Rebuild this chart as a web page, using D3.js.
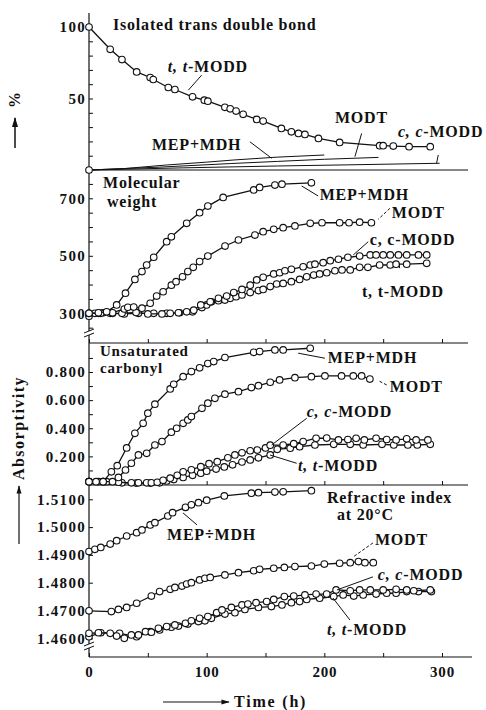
<!DOCTYPE html>
<html>
<head>
<meta charset="utf-8">
<script src="https://cdn.jsdelivr.net/npm/d3@7"></script>
<style>
  body { margin: 0; background: #fff; }
  svg text { font-family: "Liberation Serif", "DejaVu Serif", serif; fill: #111; }
</style>
</head>
<body>
<svg id="chart" width="486" height="710"></svg>
<script>
// ---- data (time in h, value) ----
const timeTicks = [0, 50, 100, 150, 200, 250, 300];
const timeLabels = [0, 100, 200, 300];

// panel 1: isolated trans double bond (%)
const transTT = [[0,100],[18,84.4],[28,77.2],[40.5,68.6],[52,64.7],[54.6,63.3],[67.4,57.7],[73,56.3],[88,51.2],[98,48.8],[101,48.1],[115.5,43.8],[120,42.8],[125,41.2],[131,38.9],[142.5,35.4],[148,34.2],[163.5,29.1],[172,26.7],[178,25.6],[183.5,24.9],[195,22.1],[213,19.3],[247,17],[250,17],[258.6,16.7],[272,16.3],[290,16.3]];
const transMepMdh = [[0,0],[30,1],[66,3.5],[100,5.5],[123,7],[160,9],[200,10.5]];
const transModt = [[0,0],[60,2],[120,4.5],[160,6],[200,7.5],[246,8.8]];
const transCC = [[0,0],[80,1.5],[160,2.8],[220,3.6],[298,4.7]];

// panel 2: molecular weight
const mwMepMdh = [[0,300],[8,302],[15,305],[23.5,329],[31,370],[39,418],[45,445],[49,468],[55,495],[66,549],[70,566],[83,613],[94,650],[101,673],[114,703],[140,729],[145,738],[158,746],[164,749],[189,754]];
const mwModt = [[0,300],[10,300],[20,302],[30,315],[33,321],[38,322],[45,318],[52,335],[57.5,360],[63,375],[70,398],[74,410],[79.5,427],[84,445],[88.6,460],[94,480],[101,499],[115.6,534],[127,555],[141,572],[148,584],[157,592],[165,598],[175,604],[188,613],[198,615],[213,615],[221,615],[230,617],[240,615]];
const mwCC = [[0,300],[5,300],[12,302],[20,300],[28,300],[40,303],[50,298],[62,298],[69,300],[76,302],[83,305],[89,311],[95,329],[103,340],[110,352],[117,360],[123,372],[130,383],[137,398],[142.5,416],[148,425],[157,437],[162,441],[166.5,448],[172,453],[182,462],[188,468],[192,471],[199,476],[205,483],[212,488],[220,495],[230,499],[239,503],[244,503],[250,503],[256,503],[263,503],[270,503],[280,503],[287,503]];
const mwTT = [[0,290],[8,300],[18,300],[30,298],[42,300],[55,300],[66,300],[77,302],[88,305],[96,320],[100,329],[104,340],[110,344],[115.5,346],[120,352],[125,358],[130,364],[137,372],[144,379],[148,383],[154,393],[159.5,402],[165,404],[172,410],[179,418],[185,427],[191,433],[196,437],[202,441],[209,448],[215,451],[222,451],[230,460],[237,460],[247,468],[256,468],[261,471],[270,471],[287,474]];

// panel 3: unsaturated carbonyl (absorptivity)
const absMepMdh = [[0,0.02],[6,0.02],[12,0.02],[19,0.09],[24,0.134],[32,0.26],[39,0.364],[46,0.435],[50,0.507],[56,0.571],[69,0.68],[72,0.713],[80,0.767],[87,0.803],[94,0.83],[101,0.86],[106,0.874],[115.5,0.903],[140,0.94],[145,0.945],[158,0.957],[165,0.957],[188,0.969]];
const absModt = [[0,0.02],[12,0.02],[20,0.02],[25,0.05],[31,0.103],[36,0.151],[42,0.21],[49,0.222],[56,0.281],[62,0.305],[70,0.372],[74.5,0.4],[80,0.435],[84,0.459],[87,0.483],[96,0.542],[101,0.578],[107,0.613],[115.5,0.642],[127,0.66],[138,0.689],[144,0.703],[154,0.727],[162,0.744],[175,0.76],[189,0.767],[200.5,0.772],[214.6,0.772],[224.6,0.772],[231.7,0.772],[238.7,0.75]];
const absCC = [[0,0.02],[8,0.02],[15,0.02],[25,0.016],[36,0.012],[42,0.012],[49,0.012],[53,0.012],[58,0.016],[63,0.03],[69,0.045],[75,0.065],[80,0.09],[87,0.105],[95,0.127],[102,0.148],[109,0.162],[118,0.19],[124,0.21],[130,0.225],[137,0.24],[143,0.245],[150,0.26],[154,0.28],[165,0.281],[174,0.29],[182,0.305],[193,0.329],[202,0.33],[212,0.317],[220,0.32],[227,0.329],[234,0.317],[244,0.329],[253,0.32],[261,0.317],[270,0.325],[278,0.317],[288,0.317]];
const absTT = [[0,0.02],[12,0.02],[28,0.012],[40,0.01],[52,0.01],[60,0.012],[66,0.025],[72,0.035],[80,0.05],[88,0.065],[95,0.08],[100,0.095],[108,0.11],[115,0.125],[122,0.14],[130,0.16],[137,0.175],[144,0.19],[154,0.21],[160,0.25],[171,0.258],[179,0.269],[192,0.281],[208,0.286],[222,0.286],[233,0.281],[249,0.286],[259,0.281],[271,0.281],[279,0.281],[290,0.286]];

// panel 4: refractive index at 20 C
const riMepMdh = [[0,1.4912],[5,1.4920],[10,1.4927],[18,1.4939],[23.5,1.4951],[32,1.4968],[40.5,1.4980],[45,1.4990],[52,1.5008],[56,1.5016],[67,1.5040],[71,1.5052],[82,1.5071],[87,1.5080],[93,1.5088],[100,1.5097],[115,1.5112],[138,1.5122],[144,1.5124],[158,1.5126],[165,1.5127],[189,1.5131]];
const riModt = [[0,1.4699],[19,1.4696],[25,1.4704],[32,1.4711],[40.5,1.4726],[53,1.4752],[60,1.4768],[69,1.4776],[73,1.4783],[79,1.4788],[83,1.4795],[87,1.4800],[94,1.4810],[98.5,1.4816],[103,1.4819],[115.5,1.4828],[127,1.4836],[140,1.4843],[145,1.4848],[157,1.4852],[166,1.4855],[175,1.4858],[189,1.4860],[200,1.4867],[213,1.4870],[222,1.4872],[229,1.4876],[234.5,1.4872],[241.6,1.4872]];
const riCC = [[0,1.4618],[8,1.4620],[18,1.4618],[23.5,1.4608],[30,1.4600],[36,1.4612],[42,1.4612],[48,1.4624],[53,1.4622],[59,1.4636],[66,1.4642],[73,1.4648],[82,1.4654],[87,1.4663],[94,1.4672],[101,1.4678],[108.5,1.4692],[113,1.4702],[121,1.4711],[130,1.4720],[135,1.4723],[142,1.4728],[151,1.4732],[157,1.4740],[166,1.4750],[174,1.4752],[183.5,1.4756],[193,1.4759],[202,1.4759],[210,1.4774],[222,1.4771],[230,1.4774],[239,1.4774],[250,1.4774],[261,1.4776],[270,1.4774],[276,1.4771],[290,1.4774]];
const riTT = [[0,1.4606],[10,1.4620],[26,1.4618],[40.5,1.4606],[52,1.4624],[60,1.4630],[70,1.4640],[76,1.4644],[84,1.4651],[93,1.4660],[98.5,1.4663],[104,1.4672],[115.5,1.4687],[124,1.4692],[132.5,1.4704],[144,1.4711],[155,1.4714],[164,1.4720],[172,1.4728],[179,1.4732],[185,1.4740],[196,1.4744],[208,1.4750],[216,1.4756],[225,1.4752],[233,1.4756],[244,1.4759],[253,1.4762],[261,1.4762],[270,1.4768],[280,1.4768],[291,1.4768]];

// ---- layout ----
const svg = d3.select('#chart');
const x = d3.scaleLinear().domain([0, 300]).range([89, 442]);
const xEnd = 472;

const panels = [
  { name: 'trans', top: 13, bottom: 170, domain: [0, 100], range: [170, 27],
    ticks: d3.range(0, 101, 10), labels: [50, 100], fmt: d3.format('d') },
  { name: 'mw', top: 170, bottom: 343, domain: [300, 700], range: [313.3, 198.3],
    ticks: d3.range(250, 751, 50), labels: [300, 500, 700], fmt: d3.format('d') },
  { name: 'abs', top: 343, bottom: 485, domain: [0, 0.8], range: [484.5, 372],
    ticks: d3.range(1, 10).map(d => d / 10), labels: [0.2, 0.4, 0.6, 0.8], fmt: d3.format('.3f') },
  { name: 'ri', top: 485, bottom: 657, domain: [1.46, 1.51], range: [638.3, 499.3],
    ticks: d3.range(0, 6).map(d => 1.46 + d / 100), labels: d3.range(0, 6).map(d => 1.46 + d / 100), fmt: d3.format('.4f') }
];
panels.forEach(p => { p.y = d3.scaleLinear().domain(p.domain).range(p.range); });

// y axes with inward ticks
panels.forEach(p => {
  const isLabel = v => p.labels.some(l => Math.abs(l - v) < 1e-9);
  const ax = svg.append('g')
    .attr('transform', `translate(${x(0)},0)`)
    .call(d3.axisLeft(p.y).tickValues(p.ticks)
      .tickSizeInner(-4).tickSizeOuter(0).tickPadding(3)
      .tickFormat(v => isLabel(v) ? p.fmt(v) : ''));
  ax.select('.domain').remove();
  ax.selectAll('line').attr('stroke', '#111');
  ax.selectAll('text').attr('font-size', 15).attr('font-weight', 'bold').attr('letter-spacing', 1.3)
    .style('font-family', '"Liberation Serif", serif').attr('fill', '#111');
});

// vertical axis line
svg.append('line').attr('x1', x(0)).attr('x2', x(0)).attr('y1', 13).attr('y2', 657)
  .attr('stroke', '#111').attr('stroke-width', 1.2);

// panel separators / time axes
panels.forEach((p, i) => {
  svg.append('line').attr('x1', x(0)).attr('x2', xEnd - (i < 3 ? 4 : 0))
    .attr('y1', p.bottom).attr('y2', p.bottom)
    .attr('stroke', '#111').attr('stroke-width', 1.2);
  if (i === 0) return;
  const ax = svg.append('g').attr('transform', `translate(0,${p.bottom})`)
    .call(d3.axisBottom(x).tickValues(timeTicks)
      .tickSizeInner(-4).tickSizeOuter(0).tickPadding(9)
      .tickFormat(v => (i === 3 && timeLabels.includes(v)) ? v : ''));
  ax.select('.domain').remove();
  ax.selectAll('line').attr('stroke', '#111');
  ax.selectAll('text').attr('font-size', 15).attr('font-weight', 'bold').attr('letter-spacing', 0.8)
    .style('font-family', '"Liberation Serif", serif').attr('fill', '#111');
});

// axis breaks
[333, 646].forEach(yb => {
  const g = svg.append('g');
  g.append('rect').attr('x', x(0) - 5).attr('y', yb - 2).attr('width', 10).attr('height', 4).attr('fill', '#fff');
  [-2, 2].forEach(o => g.append('line')
    .attr('x1', x(0) - 5).attr('y1', yb + o + 2).attr('x2', x(0) + 5).attr('y2', yb + o - 2)
    .attr('stroke', '#111').attr('stroke-width', 1));
});

// series
function drawSeries(p, data, markers) {
  const line = d3.line().x(d => x(d[0])).y(d => p.y(d[1]));
  svg.append('path').datum(data).attr('d', line)
    .attr('fill', 'none').attr('stroke', '#111').attr('stroke-width', markers ? 1.3 : 1);
  if (!markers) return;
  svg.append('g').selectAll('circle').data(data).join('circle')
    .attr('cx', d => x(d[0])).attr('cy', d => p.y(d[1])).attr('r', 3.3)
    .attr('fill', '#fff').attr('stroke', '#111').attr('stroke-width', 1.1);
}
const [p1, p2, p3, p4] = panels;
drawSeries(p1, transMepMdh, false);
drawSeries(p1, transModt, false);
drawSeries(p1, transCC, false);
drawSeries(p1, transTT, true);
drawSeries(p1, [[0, 0]], true);
[mwTT, mwCC, mwModt, mwMepMdh].forEach(s => drawSeries(p2, s, true));
[absTT, absCC, absModt, absMepMdh].forEach(s => drawSeries(p3, s, true));
[riTT, riCC, riModt, riMepMdh].forEach(s => drawSeries(p4, s, true));

// annotations: text and leaders placed in data coords
function label(p, parts, t, v, size) {
  const tx = svg.append('text').attr('x', x(t)).attr('y', p.y(v))
    .attr('font-size', size || 16).attr('font-weight', 'bold').attr('letter-spacing', 0.8);
  parts.forEach(pt => tx.append('tspan').text(pt[0]).attr('font-style', pt[1] ? 'italic' : 'normal'));
}
function leader(p, t1, v1, t2, v2, dash) {
  svg.append('line').attr('x1', x(t1)).attr('y1', p.y(v1)).attr('x2', x(t2)).attr('y2', p.y(v2))
    .attr('stroke', '#111').attr('stroke-width', 1).attr('stroke-dasharray', dash ? '3,2' : null);
}
const tt = [['t, t', true], ['-MODD', false]];
const cc = [['c, c', true], ['-MODD', false]];

label(p1, [['Isolated trans double bond']], 20.4, 97.7);
label(p1, tt, 67, 68.4);
leader(p1, 95.7, 66.3, 84.4, 55.8);
label(p1, [['MODT']], 209, 32.8);
leader(p1, 231.7, 25.6, 226, 9.3);
label(p1, [['MEP+MDH']], 53.5, 14);
leader(p1, 136.8, 19.7, 155.2, 8.2);
label(p1, cc, 262.5, 23);
leader(p1, 296.8, 10.5, 295.4, 4.7);

label(p2, [['Molecular']], 11.9, 736);
label(p2, [['weight']], 15.3, 670);
label(p2, [['MEP+MDH']], 196, 694);
leader(p2, 194.8, 708, 180.7, 743);
label(p2, [['MODT']], 257.4, 631);
leader(p2, 255.7, 665, 245.8, 627, true);
label(p2, [['c, c-MODD']], 238.7, 538);
leader(p2, 237.3, 549, 224.6, 503);
label(p2, [['t, t-MODD']], 232, 357);
leader(p2, 263.6, 474, 264, 457);

label(p3, [['Unsaturated']], 9.3, 0.915, 15);
label(p3, [['carbonyl']], 9.3, 0.792, 15);
label(p3, [['MEP+MDH']], 203, 0.865);
leader(p3, 200.5, 0.898, 177.8, 0.934);
label(p3, [['MODT']], 255.7, 0.658);
leader(p3, 253, 0.708, 245.8, 0.739, true);
label(p3, cc, 185, 0.48);
leader(p3, 185, 0.471, 155.2, 0.281);
label(p3, tt, 177.6, 0.096);
leader(p3, 176.5, 0.151, 153.8, 0.21);

label(p4, [['Refractive index']], 202.2, 1.5087);
label(p4, [['at 20°C']], 210.7, 1.5026);
label(p4, [['MEP÷MDH']], 66.3, 1.4954);
leader(p4, 91.8, 1.5008, 79.9, 1.5051);
label(p4, [['MODT']], 243, 1.4936);
leader(p4, 241.3, 1.4943, 224.3, 1.4892, true);
label(p4, cc, 245.5, 1.4810);
leader(p4, 241.3, 1.4821, 210.7, 1.4774);
label(p4, tt, 202.2, 1.4612);
leader(p4, 221.7, 1.4666, 207.3, 1.4745);

// axis titles and arrows
svg.append('defs').append('marker').attr('id', 'arr').attr('viewBox', '0 0 10 10')
  .attr('refX', 9).attr('refY', 5).attr('markerWidth', 7).attr('markerHeight', 7)
  .attr('orient', 'auto').append('path').attr('d', 'M0,2L10,5L0,8Z').attr('fill', '#111');

svg.append('text').attr('transform', 'translate(20,100) rotate(-90)')
  .attr('text-anchor', 'middle').attr('font-size', 16).attr('font-weight', 'bold').text('%');
svg.append('line').attr('x1', 15).attr('y1', 148).attr('x2', 15).attr('y2', 118)
  .attr('stroke', '#111').attr('stroke-width', 1.5).attr('marker-end', 'url(#arr)');

svg.append('text').attr('transform', 'translate(24,428) rotate(-90)')
  .attr('text-anchor', 'middle').attr('font-size', 16).attr('font-weight', 'bold')
  .attr('letter-spacing', 1.5).text('Absorptivity');
svg.append('line').attr('x1', 19).attr('y1', 544).attr('x2', 19).attr('y2', 486)
  .attr('stroke', '#111').attr('stroke-width', 1.2).attr('marker-end', 'url(#arr)');

svg.append('line').attr('x1', 163).attr('y1', 702).attr('x2', 229).attr('y2', 702)
  .attr('stroke', '#111').attr('stroke-width', 1.2).attr('marker-end', 'url(#arr)');
svg.append('text').attr('x', 234).attr('y', 707).attr('font-size', 16)
  .attr('font-weight', 'bold').attr('letter-spacing', 1.8).text('Time (h)');
</script>
</body>
</html>
